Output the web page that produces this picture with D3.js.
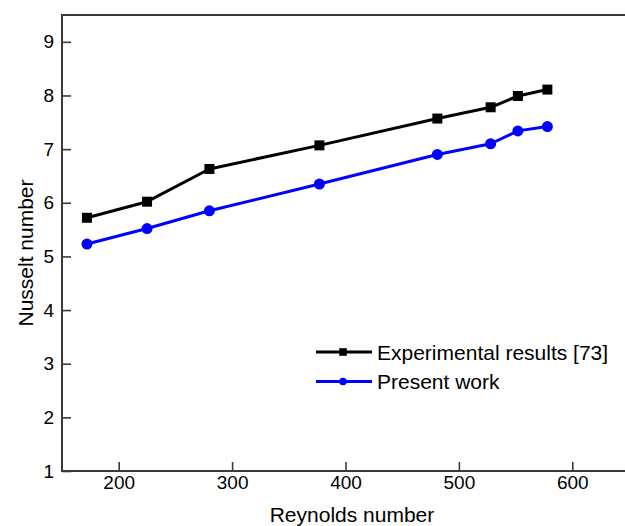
<!DOCTYPE html>
<html>
<head>
<meta charset="utf-8">
<script src="https://cdn.jsdelivr.net/npm/d3@7"></script>
<style>
  html, body { margin: 0; padding: 0; background: #fff; }
  svg { display: block; font-family: "Liberation Sans", Arial, Helvetica, sans-serif; }
</style>
</head>
<body>
<svg id="chart" width="625" height="526"></svg>
<script>
// Reynolds numbers of the measured / computed cases
const reynolds = [172, 225, 280, 377, 481, 528, 552, 578];
// Nusselt number, experimental reference data
const nuExperimental = [5.72, 6.02, 6.63, 7.07, 7.57, 7.78, 7.99, 8.11];
// Nusselt number, present simulations
const nuPresent = [5.23, 5.52, 5.85, 6.35, 6.90, 7.10, 7.34, 7.42];

const xTicks = [200, 300, 400, 500, 600];
const yTicks = [1, 2, 3, 4, 5, 6, 7, 8, 9];
const seriesNames = ["Experimental results [73]", "Present work"];

(function draw() {
  const svg = d3.select("#chart");
  const plotLeft = 62, plotTop = 15, plotBottom = 471;

  const x = d3.scaleLinear().domain([150, 650]).range([plotLeft, 629]);
  const y = d3.scaleLinear().domain([1, 9.5]).range([plotBottom, plotTop]);

  const axisColor = "#3a3a3a";

  // frame: top spine
  svg.append("line").attr("x1", plotLeft).attr("x2", 625).attr("y1", plotTop).attr("y2", plotTop)
    .attr("stroke", axisColor).attr("stroke-width", 2);

  // y axis, ticks pointing into the plot
  const gy = svg.append("g").attr("transform", `translate(${plotLeft},0)`)
    .call(d3.axisLeft(y).tickValues(yTicks).tickSizeInner(-9).tickSizeOuter(0).tickPadding(8).tickFormat(d3.format("d")));
  gy.select(".domain").remove();
  gy.selectAll(".tick line").attr("stroke", axisColor).attr("stroke-width", 1.6);
  gy.selectAll(".tick text").attr("font-size", 19).attr("fill", "#000")
    .attr("font-family", "'Liberation Sans', Arial, sans-serif");
  svg.append("line").attr("x1", plotLeft).attr("x2", plotLeft).attr("y1", plotTop - 1).attr("y2", plotBottom + 1)
    .attr("stroke", axisColor).attr("stroke-width", 2);

  // x axis, ticks pointing into the plot
  const gx = svg.append("g").attr("transform", `translate(0,${plotBottom})`)
    .call(d3.axisBottom(x).tickValues(xTicks).tickSizeInner(-9).tickSizeOuter(0).tickPadding(5).tickFormat(d3.format("d")));
  gx.select(".domain").remove();
  gx.selectAll(".tick line").attr("stroke", axisColor).attr("stroke-width", 1.6);
  gx.selectAll(".tick text").attr("font-size", 19).attr("fill", "#000")
    .attr("font-family", "'Liberation Sans', Arial, sans-serif");
  svg.append("line").attr("x1", plotLeft - 1).attr("x2", 625).attr("y1", plotBottom).attr("y2", plotBottom)
    .attr("stroke", axisColor).attr("stroke-width", 2);

  // axis titles
  svg.append("text").attr("x", 352).attr("y", 522).attr("text-anchor", "middle")
    .attr("font-size", 21).attr("fill", "#000").text("Reynolds number");
  svg.append("text").attr("transform", "translate(33,253) rotate(-90)").attr("text-anchor", "middle")
    .attr("font-size", 21).attr("fill", "#000").text("Nusselt number");

  const line = d3.line().x(d => x(d[0])).y(d => y(d[1]));

  // experimental series: black line with square markers
  const expPts = reynolds.map((r, i) => [r, nuExperimental[i]]);
  svg.append("path").datum(expPts).attr("d", line)
    .attr("fill", "none").attr("stroke", "#000").attr("stroke-width", 3).attr("stroke-linejoin", "round");
  svg.selectAll(".sq").data(expPts).enter().append("rect")
    .attr("x", d => x(d[0]) - 5).attr("y", d => y(d[1]) - 5)
    .attr("width", 10).attr("height", 10).attr("fill", "#000");

  // present work series: blue line with circle markers
  const prePts = reynolds.map((r, i) => [r, nuPresent[i]]);
  svg.append("path").datum(prePts).attr("d", line)
    .attr("fill", "none").attr("stroke", "#0000ff").attr("stroke-width", 3).attr("stroke-linejoin", "round");
  svg.selectAll(".ci").data(prePts).enter().append("circle")
    .attr("cx", d => x(d[0])).attr("cy", d => y(d[1])).attr("r", 5.5).attr("fill", "#0000ff");

  // legend
  const legend = svg.append("g");
  const lx0 = 316, lx1 = 372, lmid = 343, textX = 377;
  const rows = [
    { name: seriesNames[0], color: "#000", y: 352, marker: "square" },
    { name: seriesNames[1], color: "#0000ff", y: 381.5, marker: "circle" }
  ];
  rows.forEach(r => {
    legend.append("line").attr("x1", lx0).attr("x2", lx1).attr("y1", r.y).attr("y2", r.y)
      .attr("stroke", r.color).attr("stroke-width", 3);
    if (r.marker === "square") {
      legend.append("rect").attr("x", lmid - 3.8).attr("y", r.y - 3.8).attr("width", 7.6).attr("height", 7.6).attr("fill", r.color);
    } else {
      legend.append("circle").attr("cx", lmid).attr("cy", r.y).attr("r", 3.8).attr("fill", r.color);
    }
    legend.append("text").attr("x", textX).attr("y", r.y + 7.5).attr("font-size", 21)
      .attr("fill", "#000").text(r.name);
  });
})();
</script>
</body>
</html>
